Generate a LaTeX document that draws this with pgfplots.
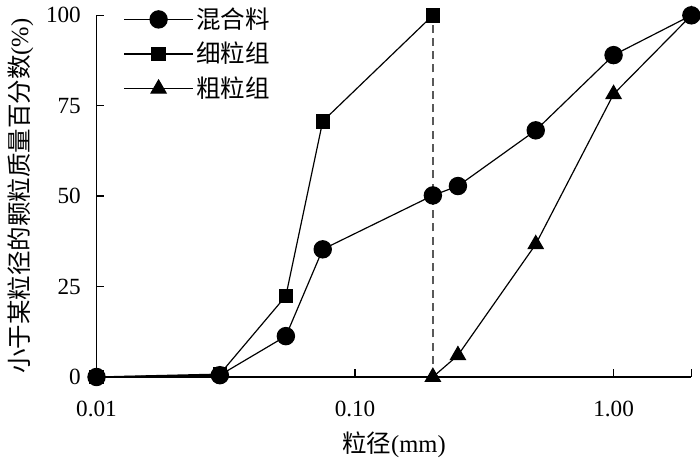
\documentclass[border=0pt]{standalone}
\usepackage{fontspec}
\setmainfont{Liberation Serif}
\newfontfamily\cjk{Noto Sans CJK SC}
\usepackage{pgfplots}
\pgfplotsset{compat=1.18}
\begin{document}
\fontsize{17}{20}\selectfont
\begin{tikzpicture}
\begin{axis}[
    scale only axis,
    width=449pt, height=273pt,
    xmode=log,
    xmin=0.01, xmax=2,
    ymin=0, ymax=100,
    axis x line=bottom, axis y line=left,
    axis line style={-, line width=1pt},
    tick align=inside,
    major tick length=6pt,
    tick style={line width=1pt, black},
    xtick={0.01,0.1,1,2},
    xticklabels={0.01,0.10,1.00,},
    minor xtick={},
    ytick={0,25,50,75,100},
    /pgf/number format/assume math mode=true,
    ticklabel style={font=\fontsize{17.5}{20}\selectfont},
    xticklabel style={yshift=-12pt},
    yticklabel style={xshift=-6pt},
    xlabel={{\cjk 粒径}(mm)},
    ylabel={{\cjk 小于某粒径的颗粒质量百分数}(\%)},
    label style={font=\fontsize{18.5}{20}\selectfont},
    ylabel style={yshift=-2pt},
    clip=false,
    legend style={draw=none, fill=none, at={(0.045,1.03)}, anchor=north west,
        font=\cjk\fontsize{18.5}{20}\selectfont, row sep=4pt, inner sep=0pt},
    legend cell align=left,
    legend image code/.code={\draw[mark repeat=2,mark phase=2] plot coordinates {(0pt,0pt)(26pt,0pt)(52pt,0pt)};},
    every axis plot/.append style={line width=0.9pt, black},
]
\addplot[mark=*, mark size=6.5pt] coordinates {
    (0.01,0) (0.03,0.5) (0.054,11.3) (0.075,35.3) (0.2,50.2)
    (0.25,52.8) (0.5,68.2) (1,89) (2,100)
};
\addlegendentry{混合料}
\addplot[mark=square*, mark size=5pt] coordinates {
    (0.01,0) (0.03,0.8) (0.054,22.4) (0.075,70.7) (0.2,100)
};
\addlegendentry{细粒组}
\addplot[mark=triangle*, mark size=6.5pt] coordinates {
    (0.2,0) (0.25,6) (0.5,36.7) (1,78.2) (2,100)
};
\addlegendentry{粗粒组}
\addplot[gray!70!black, dash pattern=on 6pt off 4pt, line width=1pt, forget plot] coordinates {(0.2,0) (0.2,100)};
\end{axis}
\end{tikzpicture}
\end{document}
